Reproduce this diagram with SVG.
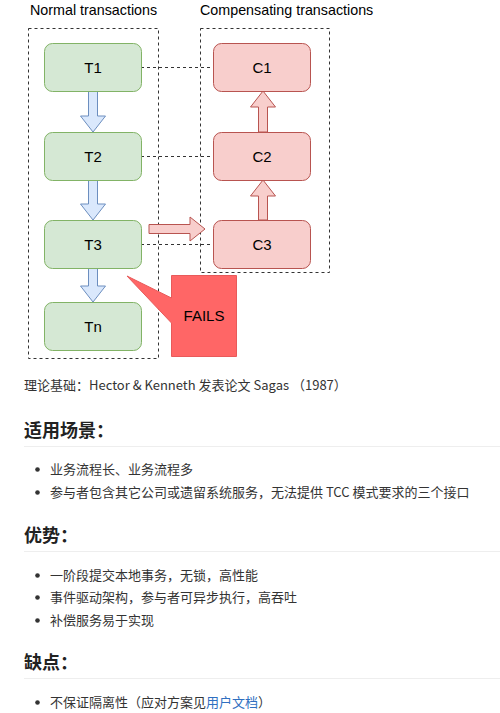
<svg xmlns="http://www.w3.org/2000/svg" width="500" height="713" viewBox="0 0 500 713">
<style>
.lbl{font-family:"Liberation Sans",Arial,sans-serif;font-size:14.3px;fill:#000}
.ntxt{font-family:"Liberation Sans",Arial,sans-serif;font-size:15px;fill:#000;text-anchor:middle}
.grp{fill:none;stroke:#333;stroke-width:1;stroke-dasharray:3 3}
.g{fill:#d5e8d4;stroke:#82b366;stroke-width:1}
.r{fill:#f8cecc;stroke:#b85450;stroke-width:1}
.ba{fill:#dae8fc;stroke:#6c8ebf;stroke-width:1}
.ra{fill:#f8cecc;stroke:#b85450;stroke-width:1}
.dash{fill:none;stroke:#333;stroke-width:1;stroke-dasharray:3 3}
.body{font-family:"Noto Sans CJK SC","Noto Sans",sans-serif;font-size:13px;fill:#333}
.h{font-family:"Noto Sans CJK SC","Noto Sans",sans-serif;font-size:18px;font-weight:bold;fill:#222}
.hr{stroke:#eeeeee;stroke-width:1}
.dot{fill:#333}
</style>
<text class="lbl" x="30" y="15">Normal transactions</text>
<text class="lbl" x="200" y="15">Compensating transactions</text>
<rect class="grp" x="28.5" y="28.5" width="130" height="330"/>
<rect class="grp" x="200.5" y="28.5" width="129" height="244"/>
<g id="connectors">
<line class="dash" x1="141" y1="67.5" x2="213" y2="67.5"/>
<line class="dash" x1="141" y1="156.5" x2="213" y2="156.5"/>
<line class="dash" x1="141" y1="244.5" x2="213" y2="244.5"/>
<polygon class="ba" points="88.5,91 97.5,91 97.5,116 105.5,116 93,132 80.5,116 88.5,116"/>
<polygon class="ba" points="88.5,180 97.5,180 97.5,204 105.5,204 93,220 80.5,204 88.5,204"/>
<polygon class="ba" points="88.5,268 97.5,268 97.5,286 105.5,286 93,302 80.5,286 88.5,286"/>
<polygon class="ra" points="258.5,132 267.5,132 267.5,107 275.5,107 263,91 250.5,107 258.5,107"/>
<polygon class="ra" points="258.5,220 267.5,220 267.5,196 275.5,196 263,180 250.5,196 258.5,196"/>
<polygon class="ra" points="149,224.5 190,224.5 190,217 205,229 190,241 190,233.5 149,233.5"/>
</g>
<g id="T1"><rect class="g" x="44.5" y="43.5" width="97" height="48" rx="8"/><text class="ntxt" x="93" y="73">T1</text></g>
<g id="T2"><rect class="g" x="44.5" y="132.5" width="97" height="48" rx="8"/><text class="ntxt" x="93" y="162">T2</text></g>
<g id="T3"><rect class="g" x="44.5" y="220.5" width="97" height="48" rx="8"/><text class="ntxt" x="93" y="250">T3</text></g>
<g id="Tn"><rect class="g" x="44.5" y="302.5" width="97" height="48" rx="8"/><text class="ntxt" x="93" y="332">Tn</text></g>
<g id="C1"><rect class="r" x="213.5" y="43.5" width="97" height="48" rx="8"/><text class="ntxt" x="262" y="73">C1</text></g>
<g id="C2"><rect class="r" x="213.5" y="132.5" width="97" height="48" rx="8"/><text class="ntxt" x="262" y="162">C2</text></g>
<g id="C3"><rect class="r" x="213.5" y="220.5" width="97" height="48" rx="8"/><text class="ntxt" x="262" y="250">C3</text></g>
<g id="FAILS">
<polygon points="171.5,275.5 236.5,275.5 236.5,356.5 171.5,356.5 171.5,323 127,276 171.5,298" fill="#ff6666" stroke="#e85a5a" stroke-width="1"/>
<text class="ntxt" x="204" y="321">FAILS</text>
</g>
<text class="body" x="24" y="390">理论基础：Hector &amp; Kenneth 发表论文 Sagas （1987）</text>
<text class="h" x="24" y="437">适用场景：</text>
<line class="hr" x1="24" y1="446.5" x2="500" y2="446.5"/>
<circle class="dot" cx="37.5" cy="469.5" r="2.3"/>
<text class="body" x="50" y="474">业务流程长、业务流程多</text>
<circle class="dot" cx="37.5" cy="492.5" r="2.3"/>
<text class="body" x="50" y="497">参与者包含其它公司或遗留系统服务，无法提供 TCC 模式要求的三个接口</text>
<text class="h" x="24" y="542">优势：</text>
<line class="hr" x1="24" y1="551.5" x2="500" y2="551.5"/>
<circle class="dot" cx="37.5" cy="575.5" r="2.3"/>
<text class="body" x="50" y="580">一阶段提交本地事务，无锁，高性能</text>
<circle class="dot" cx="37.5" cy="597.5" r="2.3"/>
<text class="body" x="50" y="602">事件驱动架构，参与者可异步执行，高吞吐</text>
<circle class="dot" cx="37.5" cy="620.5" r="2.3"/>
<text class="body" x="50" y="625">补偿服务易于实现</text>
<text class="h" x="24" y="669">缺点：</text>
<line class="hr" x1="24" y1="678.5" x2="500" y2="678.5"/>
<circle class="dot" cx="37.5" cy="702.5" r="2.3"/>
<text class="body" x="50" y="707">不保证隔离性（应对方案见<tspan fill="#2f6fc0">用户文档</tspan>）</text>
</svg>
